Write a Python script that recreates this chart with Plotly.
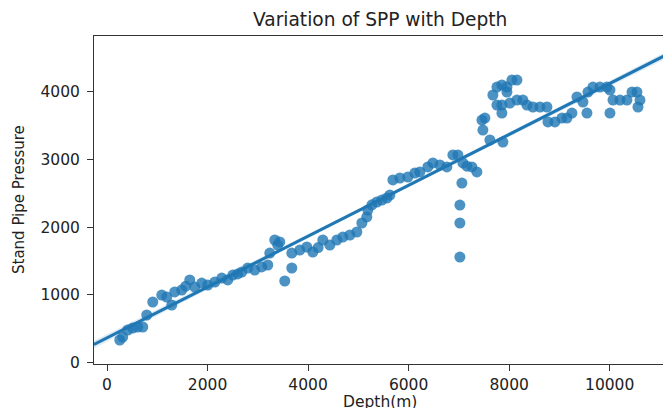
import numpy as np
import plotly.graph_objects as go

depth_m = [253, 312, 412, 512, 611, 711, 790, 910, 1089, 1188, 1288, 1347, 1487, 1566, 1646,
           1746, 1885, 2004, 2144, 2283, 2402, 2502, 2600, 2681, 2800, 2939, 3078, 3198, 3238,
           3337, 3397, 3437, 3536, 3676, 3676, 3835, 3975, 4094, 4200, 4293, 4433, 4572, 4691,
           4831, 4970, 5070, 5169, 5189, 5270, 5368, 5467, 5567, 5627, 5687, 5826, 5985, 6125,
           6224, 6383, 6483, 6622, 6761, 6881, 6980, 7060, 7020, 7020, 7020, 7080, 7159, 7259,
           7358, 7458, 7518, 7478, 7617, 7876, 7677, 7757, 7856, 7956, 8055, 8155, 7956, 7757,
           7856, 7856, 8015, 8155, 8274, 8354, 8473, 8613, 8752, 8772, 8911, 9050, 9150, 9249,
           9349, 9468, 9568, 9667, 9807, 9946, 10006, 10066, 10205, 10344, 10444, 10543, 10603,
           10563, 9548, 10006]
spp = [335, 379, 483, 512, 527, 527, 704, 896, 999, 970, 852, 1044, 1073, 1130, 1221,
       1117, 1176, 1147, 1191, 1250, 1221, 1294, 1310, 1339, 1398, 1368, 1413, 1442, 1619,
       1811, 1737, 1782, 1206, 1398, 1619, 1663, 1708, 1634, 1700, 1811, 1737, 1811, 1855,
       1885, 1929, 2062, 2151, 2254, 2330, 2372, 2400, 2431, 2475, 2697, 2726, 2741, 2800,
       2815, 2889, 2948, 2918, 2889, 3066, 3066, 2652, 2327, 2062, 1560, 2948, 2900, 2889,
       2815, 3582, 3611, 3434, 3287, 3257, 3951, 4069, 4099, 4069, 4172, 4172, 3995, 3803,
       3803, 3685, 3833, 3877, 3877, 3803, 3774, 3774, 3774, 3553, 3553, 3611, 3611, 3685,
       3922, 3848, 3995, 4069, 4069, 4069, 4025, 3877, 3877, 3877, 3995, 3995, 3877,
       3774, 3685, 3685]

x_range = [-259, 11061]
y_range = [-19, 4822]
x_ticks = [0, 2000, 4000, 6000, 8000, 10000]
x_tick_labels = ["0", "2000", "4000", "6000", "8000", "10000"]
y_ticks = [0, 1000, 2000, 3000, 4000]
y_tick_labels = ["0", "1000", "2000", "3000", "4000"]

blue = "#1f77b4"
txt = "#222222"
font = "DejaVu Sans"

x = np.array(depth_m, float)
y = np.array(spp, float)
slope, intercept = np.polyfit(x, y, 1)
grid = np.linspace(-259, 11121, 100)
yhat = intercept + slope * grid
n = len(x)
resid = y - (intercept + slope * x)
s = np.sqrt((resid ** 2).sum() / (n - 2))
sxx = ((x - x.mean()) ** 2).sum()
# the original well log is far denser than the visible dots, so its band is narrow
ci = 0.4 * 1.96 * s * np.sqrt(1.0 / n + (grid - x.mean()) ** 2 / sxx)

fig = go.Figure()
fig.add_trace(go.Scatter(x=np.concatenate([grid, grid[::-1]]),
                         y=np.concatenate([yhat + ci, (yhat - ci)[::-1]]),
                         fill="toself", fillcolor="rgba(31,119,180,0.15)",
                         line=dict(width=0), hoverinfo="skip", showlegend=False))
fig.add_trace(go.Scatter(x=depth_m, y=spp, mode="markers",
                         marker=dict(color=blue, size=11, opacity=0.8, line=dict(width=0)),
                         showlegend=False))
fig.add_trace(go.Scatter(x=grid, y=yhat, mode="lines", line=dict(color=blue, width=3),
                         showlegend=False))

fig.update_layout(
    width=663, height=408,
    margin=dict(l=94.3, r=0, t=36, b=44),
    paper_bgcolor="white", plot_bgcolor="white",
    font=dict(family=font, size=15.5, color=txt),
    xaxis=dict(range=x_range, tickvals=x_ticks, ticktext=x_tick_labels, ticks="outside",
               ticklen=6, tickwidth=1,
               tickcolor="#333", showline=True, linecolor="#333", linewidth=1, mirror=True,
               showgrid=False, zeroline=False, tickfont=dict(size=15.5, color=txt)),
    yaxis=dict(range=y_range, tickvals=y_ticks, ticktext=y_tick_labels, ticks="outside",
               ticklen=6, tickwidth=1,
               tickcolor="#333", showline=True, linecolor="#333", linewidth=1,
               showgrid=False, zeroline=False, tickfont=dict(size=15.5, color=txt),
               ticklabelstandoff=4),
    annotations=[
        dict(text="Variation of SPP with Depth", x=0.5024, y=1, xref="paper", yref="paper",
             xanchor="center", yanchor="bottom", yshift=4, showarrow=False,
             font=dict(size=18.6, color=txt, family=font)),
        dict(text="Depth(m)", x=0.5024, y=0, xref="paper", yref="paper",
             xanchor="center", yanchor="top", yshift=-27, showarrow=False,
             font=dict(size=15.5, color=txt, family=font)),
        dict(text="Stand Pipe Pressure", x=0, y=0.5, xref="paper", yref="paper",
             xanchor="center", yanchor="middle", xshift=-75, textangle=-90, showarrow=False,
             font=dict(size=15, color=txt, family=font)),
    ],
)
fig.write_html("out.html")
